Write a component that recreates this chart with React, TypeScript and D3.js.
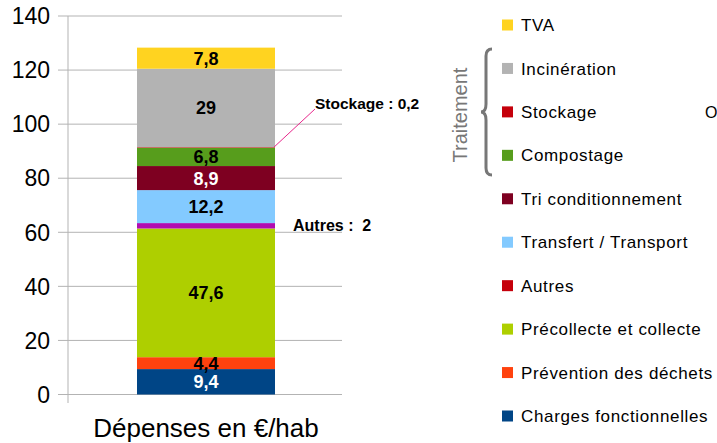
import React from 'react';
import * as d3 from 'd3';

const categories = ['Charges fonctionnelles', 'Prévention des déchets', 'Précollecte et collecte', 'Autres', 'Transfert / Transport', 'Tri conditionnement', 'Compostage', 'Stockage', 'Incinération', 'TVA'];
const values = [9.4, 4.4, 47.6, 2, 12.2, 8.9, 6.8, 0.2, 29, 7.8];
const barColors = ['#004586', '#ff420e', '#aecf00', '#b10cb1', '#83caff', '#7e0021', '#579d1c', '#c5000b', '#b3b3b3', '#ffd320'];
const legendColors = ['#004586', '#ff420e', '#aecf00', '#c5000b', '#83caff', '#7e0021', '#579d1c', '#c5000b', '#b3b3b3', '#ffd320'];
const labels = ['9,4', '4,4', '47,6', '', '12,2', '8,9', '6,8', '', '29', '7,8'];
const labelColors = ['#fff', '#000', '#000', '#000', '#000', '#fff', '#000', '#000', '#000', '#000'];
const yTicks = [0, 20, 40, 60, 80, 100, 120, 140];
const xLabel = 'Dépenses en €/hab';

const font = '"Liberation Sans", Arial, sans-serif';

const App = () => {
  const y = d3.scaleLinear().domain([0, 140]).range([394.5, 16]);
  const x = d3.scaleBand().domain([xLabel]).range([137, 275]).padding(0);

  let acc = 0;
  const stacks = values.map((v, i) => {
    const s = { y0: acc, y1: acc + v, i };
    acc += v;
    return s;
  });

  const legendY = d3.scalePoint().domain(d3.range(10).map(String)).range([416, 25]);
  const bx = x(xLabel)!;
  const bw = x.bandwidth();

  const stockage = stacks[7];

  return (
    <svg width={717} height={443} style={{ position: 'absolute', left: 0, top: 0, fontFamily: font }}>
      <rect width={717} height={443} fill="#fff" />
      {yTicks.map(t => (
        <g key={t}>
          <line x1={58} x2={342} y1={y(t)} y2={y(t)} stroke="#b3b3b3" strokeWidth={1} />
          <text x={50} y={y(t)} dy="0.36em" textAnchor="end" fontSize={23} fill="#000">{t}</text>
        </g>
      ))}
      <line x1={68} x2={68} y1={y(140)} y2={403} stroke="#b3b3b3" strokeWidth={1} />
      {stacks.map(s => (
        <rect key={s.i} x={bx} width={bw} y={y(s.y1)} height={y(s.y0) - y(s.y1)} fill={barColors[s.i]} />
      ))}
      {stacks.map(s => labels[s.i] ? (
        <text key={s.i} x={bx + bw / 2} y={(y(s.y0) + y(s.y1)) / 2} dy="0.36em" textAnchor="middle"
          fontSize={18} fontWeight="bold" fill={labelColors[s.i]}>{labels[s.i]}</text>
      ) : null)}
      <line x1={bx + bw - 1} y1={y(stockage.y1)} x2={315} y2={109} stroke="#e8288c" strokeWidth={1} />
      <text x={315} y={109} fontSize={15.5} fontWeight="bold" fill="#000">Stockage : 0,2</text>
      <text x={293} y={231} fontSize={16} fontWeight="bold" fill="#000" style={{ whiteSpace: 'pre' }}>Autres :  2</text>
      <text x={bx + bw / 2} y={437} textAnchor="middle" fontSize={26} fill="#000">{xLabel}</text>
      {categories.map((c, i) => {
        const ly = legendY(String(i))!;
        return (
          <g key={c}>
            <rect x={502} y={ly - 5.5} width={11} height={11} fill={legendColors[i]} />
            <text x={521} y={ly} dy="0.36em" fontSize={17} letterSpacing={0.65} fill="#000">{c}</text>
          </g>
        );
      })}
      <text x={705} y={legendY('7')!} dy="0.36em" fontSize={16} fill="#000">O</text>
      <path d="M492,49 Q486,49 486,56 L486,104 Q486,112 481,112 Q486,112 486,120 L486,168 Q486,175 492,175"
        fill="none" stroke="#777" strokeWidth={3} />
      <text transform="translate(467,115) rotate(-90)" textAnchor="middle" fontSize={20} fill="#777">Traitement</text>
    </svg>
  );
};

export default App;
